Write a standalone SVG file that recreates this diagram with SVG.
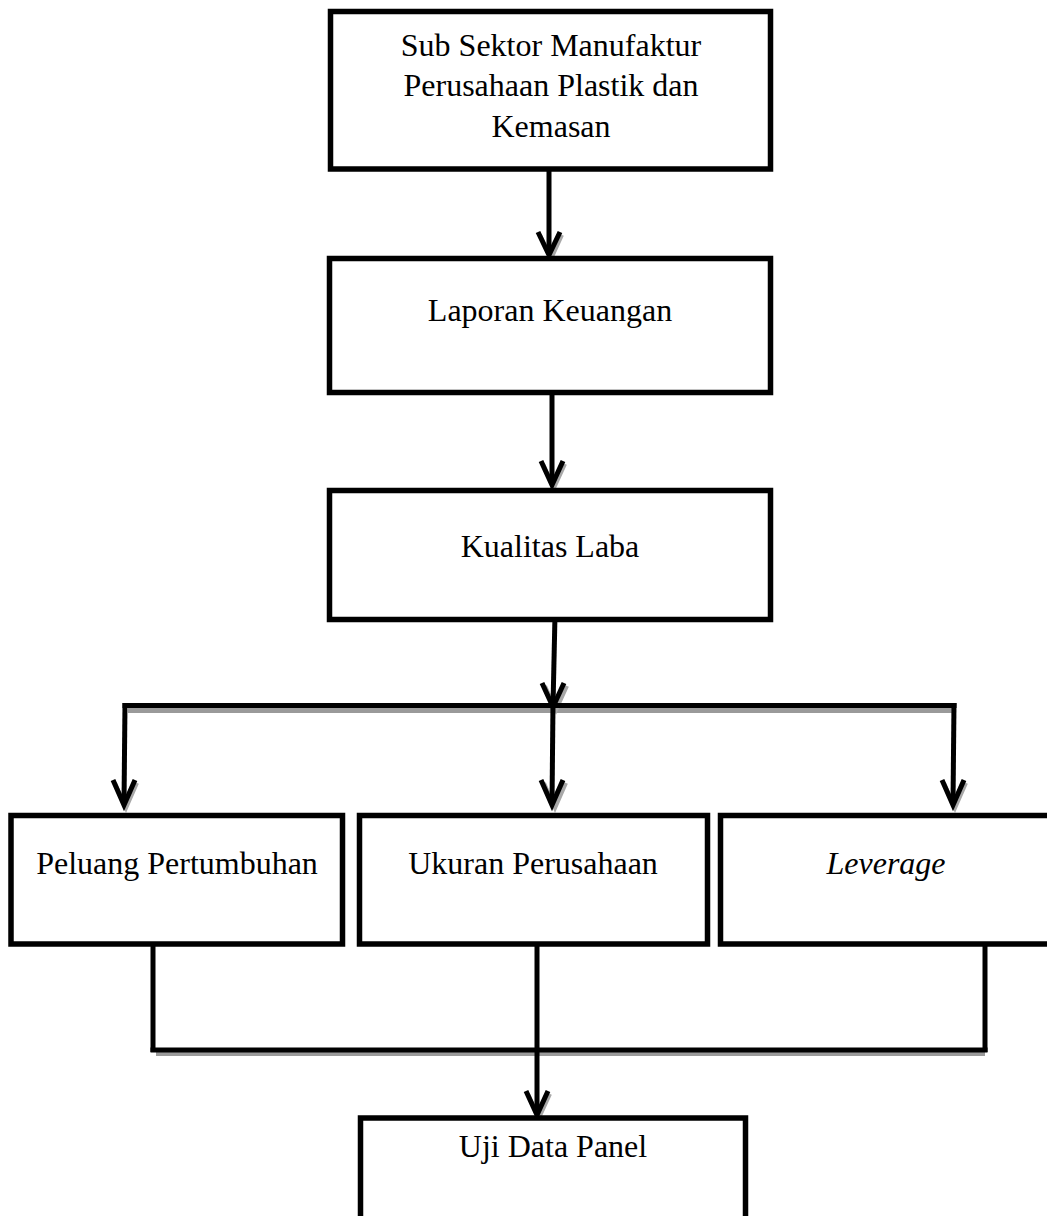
<svg xmlns="http://www.w3.org/2000/svg" width="1047" height="1216" viewBox="0 0 1047 1216">
  <defs>
    <style>
      .box { fill: #ffffff; stroke: #000000; stroke-width: 5.5; }
      .lbl { font-family: "Liberation Serif", "Times New Roman", serif; font-size: 32px; fill: #000000; text-anchor: middle; }
      .ln { fill: none; stroke: #000000; stroke-width: 5; }
      .sh { fill: none; stroke: #9a9a9a; stroke-width: 5; }
      .head { fill: none; stroke: #000000; stroke-width: 5; stroke-linejoin: miter; }
      .headsh { fill: none; stroke: #a8a8a8; stroke-width: 4; }
    </style>
  </defs>
  <rect width="1047" height="1216" fill="#ffffff"/>

  <g id="connectors">
    <!-- shadows -->
    <line class="sh" x1="128" y1="710.5" x2="954" y2="710.5"/>
    <line class="sh" x1="156" y1="1053.5" x2="985" y2="1053.5"/>
    <polyline class="headsh" points="540,235 551,259 562,235"/>
    <polyline class="headsh" points="543,464 554,488 565,464"/>
    <polyline class="headsh" points="545,686 556,710 567,686"/>
    <polyline class="headsh" points="115,783 126,808 137,783"/>
    <polyline class="headsh" points="544,783 555,808 566,783"/>
    <polyline class="headsh" points="944,783 955,808 966,783"/>
    <polyline class="headsh" points="528,1094 539,1118 550,1094"/>

    <!-- arrow 1 -->
    <line class="ln" x1="549" y1="169" x2="549" y2="254"/>
    <polyline class="head" points="538,232 549,255 560,232"/>
    <!-- arrow 2 -->
    <line class="ln" x1="552" y1="388" x2="552" y2="484"/>
    <polyline class="head" points="541,461 552,485 563,461"/>
    <!-- arrow 3 -->
    <line class="ln" x1="555" y1="615" x2="553" y2="706"/>
    <polyline class="head" points="542,683 553,707 564,683"/>
    <!-- distribution bar -->
    <line class="ln" x1="122.5" y1="705.5" x2="956.5" y2="705.5"/>
    <line class="ln" x1="125" y1="703" x2="124" y2="804"/>
    <polyline class="head" points="113,780 124,805 135,780"/>
    <line class="ln" x1="553" y1="703" x2="552" y2="804"/>
    <polyline class="head" points="541,780 552,805 563,780"/>
    <line class="ln" x1="954" y1="703" x2="953" y2="804"/>
    <polyline class="head" points="942,780 953,805 964,780"/>
    <!-- collecting bar -->
    <line class="ln" x1="153" y1="938" x2="153" y2="1052"/>
    <line class="ln" x1="985" y1="938" x2="985" y2="1052"/>
    <line class="ln" x1="150.5" y1="1050" x2="987.5" y2="1050"/>
    <line class="ln" x1="537" y1="938" x2="537" y2="1114"/>
    <polyline class="head" points="526,1091 537,1115 548,1091"/>
  </g>

  <g id="node-sub-sektor">
    <rect class="box" x="330.5" y="11.5" width="440" height="157.5"/>
    <text class="lbl" x="551" y="56">Sub Sektor Manufaktur</text>
    <text class="lbl" x="551" y="96">Perusahaan Plastik dan</text>
    <text class="lbl" x="551" y="137">Kemasan</text>
  </g>

  <g id="node-laporan-keuangan">
    <rect class="box" x="329.5" y="258.5" width="441" height="134"/>
    <text class="lbl" x="550" y="321">Laporan Keuangan</text>
  </g>

  <g id="node-kualitas-laba">
    <rect class="box" x="329.5" y="490.5" width="441" height="129"/>
    <text class="lbl" x="550" y="557">Kualitas Laba</text>
  </g>

  <g id="node-peluang-pertumbuhan">
    <rect class="box" x="11" y="815.5" width="331.5" height="128.5"/>
    <text class="lbl" x="177" y="874">Peluang Pertumbuhan</text>
  </g>

  <g id="node-ukuran-perusahaan">
    <rect class="box" x="359.5" y="815.5" width="348" height="128.5"/>
    <text class="lbl" x="533" y="874">Ukuran Perusahaan</text>
  </g>

  <g id="node-leverage">
    <rect class="box" x="720.5" y="815.5" width="340" height="128.5"/>
    <text class="lbl" x="886" y="874" font-style="italic">Leverage</text>
  </g>

  <g id="node-uji-data-panel">
    <rect class="box" x="360.5" y="1118" width="385" height="130"/>
    <text class="lbl" x="553" y="1157">Uji Data Panel</text>
  </g>
</svg>
